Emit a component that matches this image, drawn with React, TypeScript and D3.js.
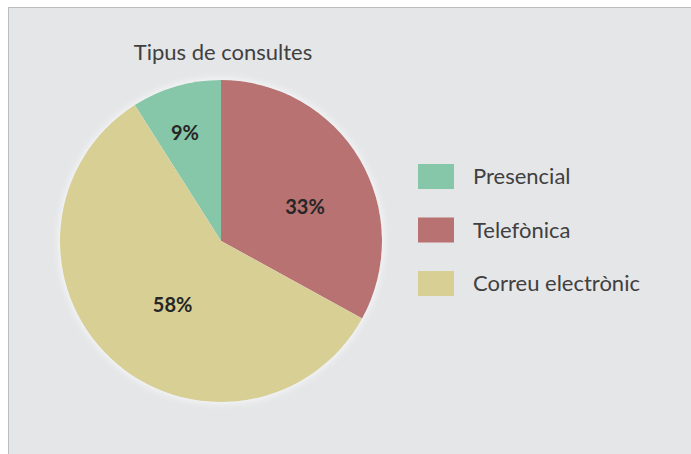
import React, { useEffect, useRef } from "react";
import * as d3 from "d3";

const categories = ["Presencial", "Telefònica", "Correu electrònic"];
const values = [9, 33, 58];
const colors = ["#85c7a8", "#b87272", "#d7cf94"];
const title = "Tipus de consultes";

const W = 691;
const H = 454;

export default function App() {
  const ref = useRef<SVGSVGElement>(null);

  useEffect(() => {
    const svg = d3.select(ref.current);
    svg.selectAll("*").remove();

    const font = "Lato, 'Open Sans', sans-serif";
    const cx = 221, cy = 241, r = 161;

    // chart background + frame
    svg.append("rect")
      .attr("x", 8.5).attr("y", 7.5)
      .attr("width", W).attr("height", H)
      .attr("fill", "#e5e6e8")
      .attr("stroke", "#bdbdbd");

    const defs = svg.append("defs");
    const f = defs.append("filter").attr("id", "glow")
      .attr("x", "-20%").attr("y", "-20%").attr("width", "140%").attr("height", "140%");
    f.append("feGaussianBlur").attr("in", "SourceAlpha").attr("stdDeviation", 4).attr("result", "b");
    f.append("feFlood").attr("flood-color", "#ffffff").attr("flood-opacity", 0.9);
    f.append("feComposite").attr("in2", "b").attr("operator", "in").attr("result", "s");
    const m = f.append("feMerge");
    m.append("feMergeNode").attr("in", "s");
    m.append("feMergeNode").attr("in", "SourceGraphic");

    svg.append("text")
      .attr("x", 223).attr("y", 60)
      .attr("text-anchor", "middle")
      .attr("font-family", font)
      .attr("font-size", 22)
      .attr("fill", "#404040")
      .text(title);

    const start = -(values[0] / d3.sum(values)) * 2 * Math.PI;
    const pie = d3.pie<number>().sort(null).startAngle(start).endAngle(start + 2 * Math.PI);
    const arcs = pie(values);
    const arc = d3.arc<d3.PieArcDatum<number>>().innerRadius(0).outerRadius(r);

    const g = svg.append("g").attr("transform", `translate(${cx},${cy})`);
    g.append("g").attr("filter", "url(#glow)")
      .selectAll("path")
      .data(arcs)
      .join("path")
      .attr("d", arc)
      .attr("fill", (d, i) => colors[i]);

    // label placement (Excel best-fit style): radius fraction and angle nudge (deg)
    const labelFrac = [0.71, 0.563, 0.5];
    const labelNudge = [-2.2, 8.6, -6.3];
    g.selectAll("text.lbl")
      .data(arcs)
      .join("text")
      .attr("class", "lbl")
      .attr("transform", (d, i) => {
        const a = (d.startAngle + d.endAngle) / 2 + (labelNudge[i] * Math.PI) / 180;
        const rr = r * labelFrac[i];
        return `translate(${rr * Math.sin(a)},${-rr * Math.cos(a)})`;
      })
      .attr("dy", "0.35em")
      .attr("text-anchor", "middle")
      .attr("font-family", font)
      .attr("font-weight", "bold")
      .attr("font-size", 20)
      .attr("fill", "#262626")
      .text(d => `${d.data}%`);

    const leg = svg.append("g").attr("transform", "translate(418,164)");
    const row = leg.selectAll("g")
      .data(categories)
      .join("g")
      .attr("transform", (d, i) => `translate(0,${i * 53.5})`);
    row.append("rect")
      .attr("width", 36).attr("height", 25)
      .attr("fill", (d, i) => colors[i]);
    row.append("text")
      .attr("x", 55).attr("y", 12.5)
      .attr("dy", "0.35em")
      .attr("font-family", font)
      .attr("font-size", 22)
      .attr("fill", "#404040")
      .text(d => d);
  }, []);

  return (
    <svg
      ref={ref}
      width={W}
      height={H}
      style={{ position: "absolute", left: 0, top: 0 }}
    />
  );
}
